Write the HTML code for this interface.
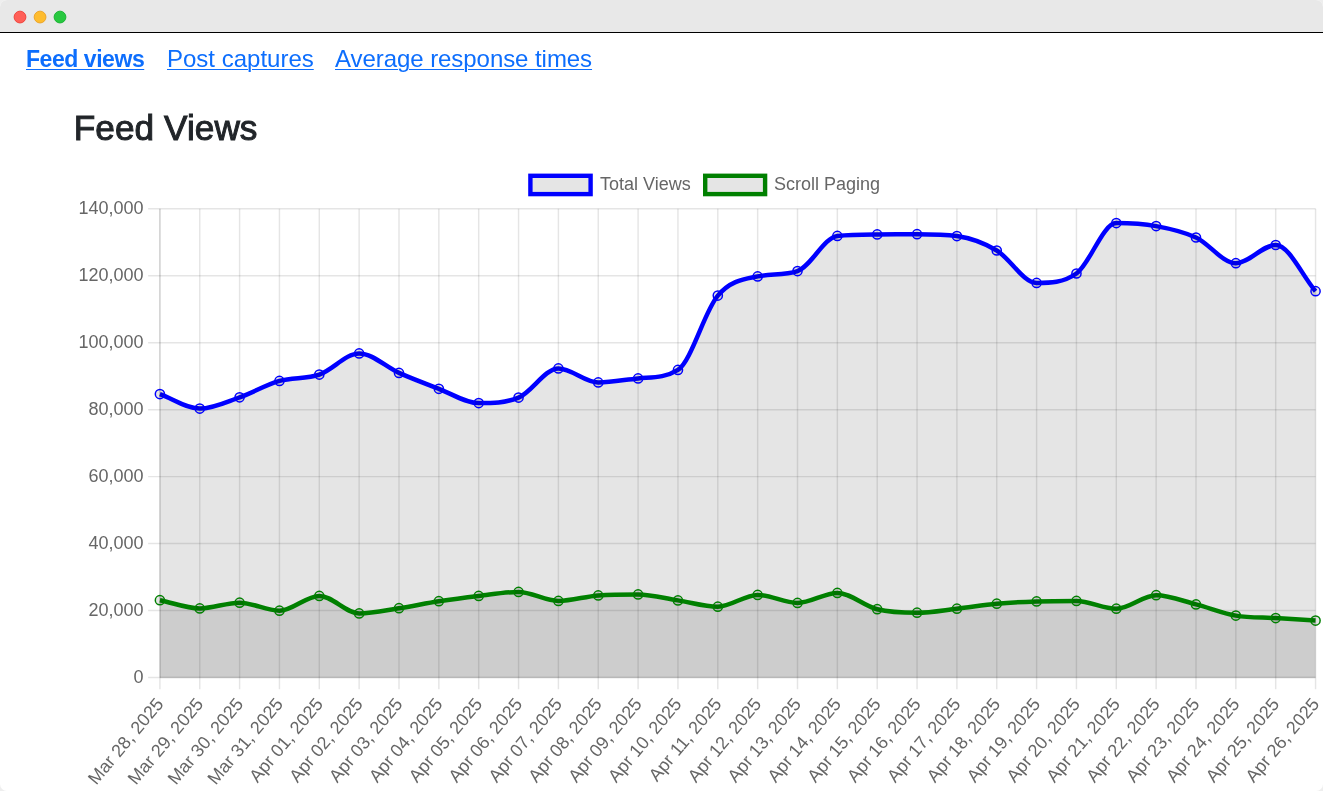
<!DOCTYPE html>
<html><head><meta charset="utf-8"><title>Feed Views</title>
<style>
html{margin:0;padding:0;background:#eee;}
body{margin:0;padding:0;background:#fff;border-radius:7px;width:1323px;height:791px;overflow:hidden;position:relative;font-family:"Liberation Sans",Arial,sans-serif;}
.bar{position:absolute;left:0;top:0;width:1323px;height:32px;background:#e8e8e8}
.bar i{position:absolute;left:0;top:31.7px;width:1323px;height:1.3px;background:#000;display:block}
.nav{position:absolute;left:0;top:44px;font-size:24px;line-height:30px;white-space:nowrap;color:#0d6efd}
.nav a{color:#0d6efd;text-decoration:underline;text-decoration-thickness:1.1px;text-underline-offset:1.9px;position:absolute;top:0}
.nav a.cur{font-weight:bold;font-size:23px;letter-spacing:-0.45px}
h1{position:absolute;left:73.8px;top:106.5px;margin:0;font-size:35.2px;line-height:42px;font-weight:normal;color:#212529;-webkit-text-stroke:1px #212529;letter-spacing:0.05px;white-space:nowrap}
</style></head><body>
<div class="bar"><svg width="80" height="32" style="position:absolute;left:0;top:0"><circle cx="20" cy="17.05" r="5.9" fill="#ff5f57" stroke="#f0443c" stroke-width="1"/><circle cx="40.05" cy="17.05" r="5.9" fill="#febc2e" stroke="#eca52a" stroke-width="1"/><circle cx="60" cy="17.05" r="5.9" fill="#28c840" stroke="#1bb434" stroke-width="1"/></svg><i></i></div>
<div class="nav"><a class="cur" style="left:26px">Feed views</a><a style="left:167px">Post captures</a><a style="left:335px;letter-spacing:-0.06px">Average response times</a></div>
<h1>Feed Views</h1>
<svg width="1323" height="791" viewBox="0 0 1323 791" style="position:absolute;left:0;top:0" font-family="'Liberation Sans', Arial, sans-serif" font-size="18" fill="#666">
<g stroke="rgba(0,0,0,0.1)" stroke-width="1.47"><line x1="148.10" y1="208.80" x2="1315.55" y2="208.80"/><line x1="148.10" y1="275.76" x2="1315.55" y2="275.76"/><line x1="148.10" y1="342.71" x2="1315.55" y2="342.71"/><line x1="148.10" y1="409.67" x2="1315.55" y2="409.67"/><line x1="148.10" y1="476.63" x2="1315.55" y2="476.63"/><line x1="148.10" y1="543.59" x2="1315.55" y2="543.59"/><line x1="148.10" y1="610.54" x2="1315.55" y2="610.54"/><line x1="148.10" y1="677.50" x2="1315.55" y2="677.50"/><line x1="159.90" y1="208.80" x2="159.90" y2="689.30"/><line x1="199.75" y1="208.80" x2="199.75" y2="689.30"/><line x1="239.60" y1="208.80" x2="239.60" y2="689.30"/><line x1="279.45" y1="208.80" x2="279.45" y2="689.30"/><line x1="319.30" y1="208.80" x2="319.30" y2="689.30"/><line x1="359.15" y1="208.80" x2="359.15" y2="689.30"/><line x1="399.00" y1="208.80" x2="399.00" y2="689.30"/><line x1="438.85" y1="208.80" x2="438.85" y2="689.30"/><line x1="478.70" y1="208.80" x2="478.70" y2="689.30"/><line x1="518.55" y1="208.80" x2="518.55" y2="689.30"/><line x1="558.40" y1="208.80" x2="558.40" y2="689.30"/><line x1="598.25" y1="208.80" x2="598.25" y2="689.30"/><line x1="638.10" y1="208.80" x2="638.10" y2="689.30"/><line x1="677.95" y1="208.80" x2="677.95" y2="689.30"/><line x1="717.80" y1="208.80" x2="717.80" y2="689.30"/><line x1="757.65" y1="208.80" x2="757.65" y2="689.30"/><line x1="797.50" y1="208.80" x2="797.50" y2="689.30"/><line x1="837.35" y1="208.80" x2="837.35" y2="689.30"/><line x1="877.20" y1="208.80" x2="877.20" y2="689.30"/><line x1="917.05" y1="208.80" x2="917.05" y2="689.30"/><line x1="956.90" y1="208.80" x2="956.90" y2="689.30"/><line x1="996.75" y1="208.80" x2="996.75" y2="689.30"/><line x1="1036.60" y1="208.80" x2="1036.60" y2="689.30"/><line x1="1076.45" y1="208.80" x2="1076.45" y2="689.30"/><line x1="1116.30" y1="208.80" x2="1116.30" y2="689.30"/><line x1="1156.15" y1="208.80" x2="1156.15" y2="689.30"/><line x1="1196.00" y1="208.80" x2="1196.00" y2="689.30"/><line x1="1235.85" y1="208.80" x2="1235.85" y2="689.30"/><line x1="1275.70" y1="208.80" x2="1275.70" y2="689.30"/><line x1="1315.55" y1="208.80" x2="1315.55" y2="689.30"/><line x1="159.90" y1="208.80" x2="159.90" y2="677.50"/><line x1="159.90" y1="677.50" x2="1315.55" y2="677.50"/></g>
<path d="M159.90 394.10 C173.18 398.93 186.47 408.60 199.75 408.60 C213.03 408.60 226.32 401.92 239.60 397.30 C252.88 392.68 266.17 384.68 279.45 380.90 C292.73 377.12 306.02 379.18 319.30 374.60 C332.58 370.02 345.87 353.40 359.15 353.40 C372.43 353.40 385.72 367.00 399.00 372.90 C412.28 378.80 425.57 383.77 438.85 388.80 C452.13 393.83 465.42 403.10 478.70 403.10 C491.98 403.10 505.27 403.10 518.55 397.60 C531.83 392.10 545.12 368.40 558.40 368.40 C571.68 368.40 584.97 382.40 598.25 382.40 C611.53 382.40 624.82 379.67 638.10 378.40 C651.38 377.13 664.67 378.30 677.95 369.90 C691.23 361.50 704.52 311.18 717.80 295.60 C731.08 280.02 744.37 279.14 757.65 276.40 C770.93 273.66 784.22 275.63 797.50 271.10 C810.78 266.57 824.07 237.40 837.35 235.90 C850.63 234.40 863.92 234.47 877.20 234.40 C890.48 234.33 903.77 234.20 917.05 234.20 C930.33 234.20 943.62 234.20 956.90 236.10 C970.18 238.00 983.47 242.70 996.75 250.50 C1010.03 258.30 1023.32 282.90 1036.60 282.90 C1049.88 282.90 1063.17 282.90 1076.45 273.50 C1089.73 264.10 1103.02 223.10 1116.30 223.10 C1129.58 223.10 1142.87 223.70 1156.15 226.10 C1169.43 228.50 1182.72 231.32 1196.00 237.50 C1209.28 243.68 1222.57 263.20 1235.85 263.20 C1249.13 263.20 1262.42 245.00 1275.70 245.00 C1288.98 245.00 1302.27 275.80 1315.55 291.20 L1315.55 677.50 L159.90 677.50 Z" fill="rgba(0,0,0,0.1)" stroke="none"/>
<path d="M159.90 394.10 C173.18 398.93 186.47 408.60 199.75 408.60 C213.03 408.60 226.32 401.92 239.60 397.30 C252.88 392.68 266.17 384.68 279.45 380.90 C292.73 377.12 306.02 379.18 319.30 374.60 C332.58 370.02 345.87 353.40 359.15 353.40 C372.43 353.40 385.72 367.00 399.00 372.90 C412.28 378.80 425.57 383.77 438.85 388.80 C452.13 393.83 465.42 403.10 478.70 403.10 C491.98 403.10 505.27 403.10 518.55 397.60 C531.83 392.10 545.12 368.40 558.40 368.40 C571.68 368.40 584.97 382.40 598.25 382.40 C611.53 382.40 624.82 379.67 638.10 378.40 C651.38 377.13 664.67 378.30 677.95 369.90 C691.23 361.50 704.52 311.18 717.80 295.60 C731.08 280.02 744.37 279.14 757.65 276.40 C770.93 273.66 784.22 275.63 797.50 271.10 C810.78 266.57 824.07 237.40 837.35 235.90 C850.63 234.40 863.92 234.47 877.20 234.40 C890.48 234.33 903.77 234.20 917.05 234.20 C930.33 234.20 943.62 234.20 956.90 236.10 C970.18 238.00 983.47 242.70 996.75 250.50 C1010.03 258.30 1023.32 282.90 1036.60 282.90 C1049.88 282.90 1063.17 282.90 1076.45 273.50 C1089.73 264.10 1103.02 223.10 1116.30 223.10 C1129.58 223.10 1142.87 223.70 1156.15 226.10 C1169.43 228.50 1182.72 231.32 1196.00 237.50 C1209.28 243.68 1222.57 263.20 1235.85 263.20 C1249.13 263.20 1262.42 245.00 1275.70 245.00 C1288.98 245.00 1302.27 275.80 1315.55 291.20" fill="none" stroke="#0000ff" stroke-width="4.5" stroke-linecap="butt" stroke-linejoin="miter"/>
<g fill="rgba(0,0,0,0.1)" stroke="#0000ff" stroke-width="1.47"><circle cx="159.90" cy="394.10" r="4.6"/><circle cx="199.75" cy="408.60" r="4.6"/><circle cx="239.60" cy="397.30" r="4.6"/><circle cx="279.45" cy="380.90" r="4.6"/><circle cx="319.30" cy="374.60" r="4.6"/><circle cx="359.15" cy="353.40" r="4.6"/><circle cx="399.00" cy="372.90" r="4.6"/><circle cx="438.85" cy="388.80" r="4.6"/><circle cx="478.70" cy="403.10" r="4.6"/><circle cx="518.55" cy="397.60" r="4.6"/><circle cx="558.40" cy="368.40" r="4.6"/><circle cx="598.25" cy="382.40" r="4.6"/><circle cx="638.10" cy="378.40" r="4.6"/><circle cx="677.95" cy="369.90" r="4.6"/><circle cx="717.80" cy="295.60" r="4.6"/><circle cx="757.65" cy="276.40" r="4.6"/><circle cx="797.50" cy="271.10" r="4.6"/><circle cx="837.35" cy="235.90" r="4.6"/><circle cx="877.20" cy="234.40" r="4.6"/><circle cx="917.05" cy="234.20" r="4.6"/><circle cx="956.90" cy="236.10" r="4.6"/><circle cx="996.75" cy="250.50" r="4.6"/><circle cx="1036.60" cy="282.90" r="4.6"/><circle cx="1076.45" cy="273.50" r="4.6"/><circle cx="1116.30" cy="223.10" r="4.6"/><circle cx="1156.15" cy="226.10" r="4.6"/><circle cx="1196.00" cy="237.50" r="4.6"/><circle cx="1235.85" cy="263.20" r="4.6"/><circle cx="1275.70" cy="245.00" r="4.6"/><circle cx="1315.55" cy="291.20" r="4.6"/></g>
<path d="M159.90 600.20 C173.18 602.93 186.47 608.40 199.75 608.40 C213.03 608.40 226.32 602.70 239.60 602.70 C252.88 602.70 266.17 610.70 279.45 610.70 C292.73 610.70 306.02 595.90 319.30 595.90 C332.58 595.90 345.87 613.40 359.15 613.40 C372.43 613.40 385.72 610.23 399.00 608.20 C412.28 606.17 425.57 603.25 438.85 601.20 C452.13 599.15 465.42 597.45 478.70 595.90 C491.98 594.35 505.27 591.90 518.55 591.90 C531.83 591.90 545.12 600.90 558.40 600.90 C571.68 600.90 584.97 596.40 598.25 595.40 C611.53 594.40 624.82 594.40 638.10 594.40 C651.38 594.40 664.67 598.35 677.95 600.40 C691.23 602.45 704.52 606.70 717.80 606.70 C731.08 606.70 744.37 594.90 757.65 594.90 C770.93 594.90 784.22 602.90 797.50 602.90 C810.78 602.90 824.07 592.90 837.35 592.90 C850.63 592.90 863.92 605.90 877.20 609.20 C890.48 612.50 903.77 612.70 917.05 612.70 C930.33 612.70 943.62 610.20 956.90 608.70 C970.18 607.20 983.47 604.92 996.75 603.70 C1010.03 602.48 1023.32 601.87 1036.60 601.40 C1049.88 600.93 1063.17 600.90 1076.45 600.90 C1089.73 600.90 1103.02 608.70 1116.30 608.70 C1129.58 608.70 1142.87 595.20 1156.15 595.20 C1169.43 595.20 1182.72 601.00 1196.00 604.40 C1209.28 607.80 1222.57 613.32 1235.85 615.60 C1249.13 617.88 1262.42 617.27 1275.70 618.10 C1288.98 618.93 1302.27 619.77 1315.55 620.60 L1315.55 677.50 L159.90 677.50 Z" fill="rgba(0,0,0,0.1)" stroke="none"/>
<path d="M159.90 600.20 C173.18 602.93 186.47 608.40 199.75 608.40 C213.03 608.40 226.32 602.70 239.60 602.70 C252.88 602.70 266.17 610.70 279.45 610.70 C292.73 610.70 306.02 595.90 319.30 595.90 C332.58 595.90 345.87 613.40 359.15 613.40 C372.43 613.40 385.72 610.23 399.00 608.20 C412.28 606.17 425.57 603.25 438.85 601.20 C452.13 599.15 465.42 597.45 478.70 595.90 C491.98 594.35 505.27 591.90 518.55 591.90 C531.83 591.90 545.12 600.90 558.40 600.90 C571.68 600.90 584.97 596.40 598.25 595.40 C611.53 594.40 624.82 594.40 638.10 594.40 C651.38 594.40 664.67 598.35 677.95 600.40 C691.23 602.45 704.52 606.70 717.80 606.70 C731.08 606.70 744.37 594.90 757.65 594.90 C770.93 594.90 784.22 602.90 797.50 602.90 C810.78 602.90 824.07 592.90 837.35 592.90 C850.63 592.90 863.92 605.90 877.20 609.20 C890.48 612.50 903.77 612.70 917.05 612.70 C930.33 612.70 943.62 610.20 956.90 608.70 C970.18 607.20 983.47 604.92 996.75 603.70 C1010.03 602.48 1023.32 601.87 1036.60 601.40 C1049.88 600.93 1063.17 600.90 1076.45 600.90 C1089.73 600.90 1103.02 608.70 1116.30 608.70 C1129.58 608.70 1142.87 595.20 1156.15 595.20 C1169.43 595.20 1182.72 601.00 1196.00 604.40 C1209.28 607.80 1222.57 613.32 1235.85 615.60 C1249.13 617.88 1262.42 617.27 1275.70 618.10 C1288.98 618.93 1302.27 619.77 1315.55 620.60" fill="none" stroke="#008000" stroke-width="4.5" stroke-linecap="butt" stroke-linejoin="miter"/>
<g fill="rgba(0,0,0,0.1)" stroke="#008000" stroke-width="1.47"><circle cx="159.90" cy="600.20" r="4.6"/><circle cx="199.75" cy="608.40" r="4.6"/><circle cx="239.60" cy="602.70" r="4.6"/><circle cx="279.45" cy="610.70" r="4.6"/><circle cx="319.30" cy="595.90" r="4.6"/><circle cx="359.15" cy="613.40" r="4.6"/><circle cx="399.00" cy="608.20" r="4.6"/><circle cx="438.85" cy="601.20" r="4.6"/><circle cx="478.70" cy="595.90" r="4.6"/><circle cx="518.55" cy="591.90" r="4.6"/><circle cx="558.40" cy="600.90" r="4.6"/><circle cx="598.25" cy="595.40" r="4.6"/><circle cx="638.10" cy="594.40" r="4.6"/><circle cx="677.95" cy="600.40" r="4.6"/><circle cx="717.80" cy="606.70" r="4.6"/><circle cx="757.65" cy="594.90" r="4.6"/><circle cx="797.50" cy="602.90" r="4.6"/><circle cx="837.35" cy="592.90" r="4.6"/><circle cx="877.20" cy="609.20" r="4.6"/><circle cx="917.05" cy="612.70" r="4.6"/><circle cx="956.90" cy="608.70" r="4.6"/><circle cx="996.75" cy="603.70" r="4.6"/><circle cx="1036.60" cy="601.40" r="4.6"/><circle cx="1076.45" cy="600.90" r="4.6"/><circle cx="1116.30" cy="608.70" r="4.6"/><circle cx="1156.15" cy="595.20" r="4.6"/><circle cx="1196.00" cy="604.40" r="4.6"/><circle cx="1235.85" cy="615.60" r="4.6"/><circle cx="1275.70" cy="618.10" r="4.6"/><circle cx="1315.55" cy="620.60" r="4.6"/></g>
<text x="143.50" y="214.20" text-anchor="end">140,000</text>
<text x="143.50" y="281.16" text-anchor="end">120,000</text>
<text x="143.50" y="348.11" text-anchor="end">100,000</text>
<text x="143.50" y="415.07" text-anchor="end">80,000</text>
<text x="143.50" y="482.03" text-anchor="end">60,000</text>
<text x="143.50" y="548.99" text-anchor="end">40,000</text>
<text x="143.50" y="615.94" text-anchor="end">20,000</text>
<text x="143.50" y="682.90" text-anchor="end">0</text>
<text transform="translate(159.60 700.40) rotate(-50)" text-anchor="end" x="0" y="6.3">Mar 28, 2025</text>
<text transform="translate(199.45 700.40) rotate(-50)" text-anchor="end" x="0" y="6.3">Mar 29, 2025</text>
<text transform="translate(239.30 700.40) rotate(-50)" text-anchor="end" x="0" y="6.3">Mar 30, 2025</text>
<text transform="translate(279.15 700.40) rotate(-50)" text-anchor="end" x="0" y="6.3">Mar 31, 2025</text>
<text transform="translate(319.00 700.40) rotate(-50)" text-anchor="end" x="0" y="6.3">Apr 01, 2025</text>
<text transform="translate(358.85 700.40) rotate(-50)" text-anchor="end" x="0" y="6.3">Apr 02, 2025</text>
<text transform="translate(398.70 700.40) rotate(-50)" text-anchor="end" x="0" y="6.3">Apr 03, 2025</text>
<text transform="translate(438.55 700.40) rotate(-50)" text-anchor="end" x="0" y="6.3">Apr 04, 2025</text>
<text transform="translate(478.40 700.40) rotate(-50)" text-anchor="end" x="0" y="6.3">Apr 05, 2025</text>
<text transform="translate(518.25 700.40) rotate(-50)" text-anchor="end" x="0" y="6.3">Apr 06, 2025</text>
<text transform="translate(558.10 700.40) rotate(-50)" text-anchor="end" x="0" y="6.3">Apr 07, 2025</text>
<text transform="translate(597.95 700.40) rotate(-50)" text-anchor="end" x="0" y="6.3">Apr 08, 2025</text>
<text transform="translate(637.80 700.40) rotate(-50)" text-anchor="end" x="0" y="6.3">Apr 09, 2025</text>
<text transform="translate(677.65 700.40) rotate(-50)" text-anchor="end" x="0" y="6.3">Apr 10, 2025</text>
<text transform="translate(717.50 700.40) rotate(-50)" text-anchor="end" x="0" y="6.3">Apr 11, 2025</text>
<text transform="translate(757.35 700.40) rotate(-50)" text-anchor="end" x="0" y="6.3">Apr 12, 2025</text>
<text transform="translate(797.20 700.40) rotate(-50)" text-anchor="end" x="0" y="6.3">Apr 13, 2025</text>
<text transform="translate(837.05 700.40) rotate(-50)" text-anchor="end" x="0" y="6.3">Apr 14, 2025</text>
<text transform="translate(876.90 700.40) rotate(-50)" text-anchor="end" x="0" y="6.3">Apr 15, 2025</text>
<text transform="translate(916.75 700.40) rotate(-50)" text-anchor="end" x="0" y="6.3">Apr 16, 2025</text>
<text transform="translate(956.60 700.40) rotate(-50)" text-anchor="end" x="0" y="6.3">Apr 17, 2025</text>
<text transform="translate(996.45 700.40) rotate(-50)" text-anchor="end" x="0" y="6.3">Apr 18, 2025</text>
<text transform="translate(1036.30 700.40) rotate(-50)" text-anchor="end" x="0" y="6.3">Apr 19, 2025</text>
<text transform="translate(1076.15 700.40) rotate(-50)" text-anchor="end" x="0" y="6.3">Apr 20, 2025</text>
<text transform="translate(1116.00 700.40) rotate(-50)" text-anchor="end" x="0" y="6.3">Apr 21, 2025</text>
<text transform="translate(1155.85 700.40) rotate(-50)" text-anchor="end" x="0" y="6.3">Apr 22, 2025</text>
<text transform="translate(1195.70 700.40) rotate(-50)" text-anchor="end" x="0" y="6.3">Apr 23, 2025</text>
<text transform="translate(1235.55 700.40) rotate(-50)" text-anchor="end" x="0" y="6.3">Apr 24, 2025</text>
<text transform="translate(1275.40 700.40) rotate(-50)" text-anchor="end" x="0" y="6.3">Apr 25, 2025</text>
<text transform="translate(1315.25 700.40) rotate(-50)" text-anchor="end" x="0" y="6.3">Apr 26, 2025</text>
<rect x="530.4" y="175.8" width="60.2" height="18.3" fill="rgba(0,0,0,0.1)" stroke="#0000ff" stroke-width="4.4"/>
<text x="600" y="190.2">Total Views</text>
<rect x="705.2" y="175.8" width="59.9" height="18.3" fill="rgba(0,0,0,0.1)" stroke="#008000" stroke-width="4.4"/>
<text x="774" y="190.2">Scroll Paging</text>
</svg>
</body></html>
